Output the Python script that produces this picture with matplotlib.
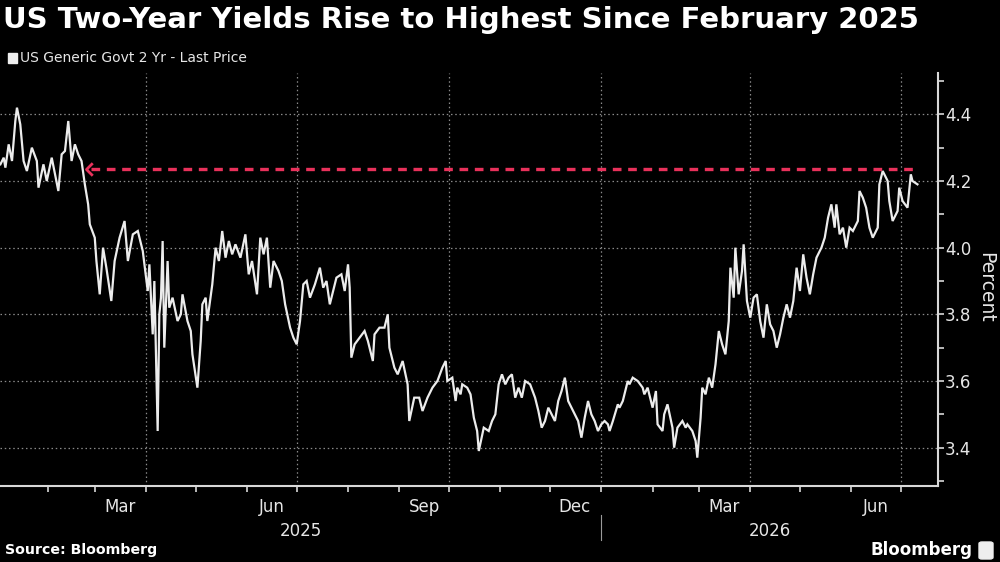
import matplotlib
matplotlib.use("Agg")
import matplotlib.pyplot as plt
import matplotlib.dates as mdates
import matplotlib.path as mpath
import matplotlib.transforms as mtrans
from matplotlib.patches import FancyBboxPatch
import pandas as pd
import numpy as np

# ---------------- data ----------------
dates = [
    "2025-01-03", "2025-01-05", "2025-01-06", "2025-01-08", "2025-01-10", "2025-01-12", "2025-01-13", "2025-01-15",
    "2025-01-17", "2025-01-19", "2025-01-22", "2025-01-25", "2025-01-26", "2025-01-29", "2025-01-31", "2025-02-03",
    "2025-02-05", "2025-02-07", "2025-02-09", "2025-02-11", "2025-02-13", "2025-02-15", "2025-02-17", "2025-02-19",
    "2025-02-21", "2025-02-23", "2025-02-25", "2025-02-26", "2025-03-01", "2025-03-02", "2025-03-04", "2025-03-06",
    "2025-03-08", "2025-03-11", "2025-03-13", "2025-03-16", "2025-03-19", "2025-03-21", "2025-03-24", "2025-03-27",
    "2025-03-30", "2025-04-02", "2025-04-03", "2025-04-05", "2025-04-06", "2025-04-08", "2025-04-09", "2025-04-10",
    "2025-04-11", "2025-04-12", "2025-04-14", "2025-04-15", "2025-04-17", "2025-04-20", "2025-04-22", "2025-04-23",
    "2025-04-26", "2025-04-28", "2025-04-29", "2025-05-02", "2025-05-04", "2025-05-05", "2025-05-07", "2025-05-08",
    "2025-05-11", "2025-05-13", "2025-05-15", "2025-05-17", "2025-05-19", "2025-05-21", "2025-05-23", "2025-05-25",
    "2025-05-28", "2025-05-31", "2025-06-02", "2025-06-04", "2025-06-07", "2025-06-09", "2025-06-11", "2025-06-13",
    "2025-06-15", "2025-06-17", "2025-06-20", "2025-06-22", "2025-06-24", "2025-06-27", "2025-06-29", "2025-07-01",
    "2025-07-03", "2025-07-05", "2025-07-07", "2025-07-09", "2025-07-12", "2025-07-15", "2025-07-17", "2025-07-19",
    "2025-07-21", "2025-07-25", "2025-07-28", "2025-07-30", "2025-08-01", "2025-08-02", "2025-08-03", "2025-08-05",
    "2025-08-08", "2025-08-11", "2025-08-13", "2025-08-16", "2025-08-17", "2025-08-20", "2025-08-23", "2025-08-25",
    "2025-08-26", "2025-08-29", "2025-08-31", "2025-09-03", "2025-09-06", "2025-09-07", "2025-09-10", "2025-09-13",
    "2025-09-15", "2025-09-18", "2025-09-21", "2025-09-24", "2025-09-27", "2025-09-29", "2025-09-30", "2025-10-03",
    "2025-10-05", "2025-10-06", "2025-10-08", "2025-10-09", "2025-10-12", "2025-10-14", "2025-10-16", "2025-10-18",
    "2025-10-19", "2025-10-22", "2025-10-25", "2025-10-27", "2025-10-29", "2025-10-31", "2025-11-02", "2025-11-04",
    "2025-11-06", "2025-11-08", "2025-11-10", "2025-11-12", "2025-11-14", "2025-11-16", "2025-11-19", "2025-11-22",
    "2025-11-24", "2025-11-26", "2025-11-28", "2025-11-30", "2025-12-02", "2025-12-04", "2025-12-06", "2025-12-08",
    "2025-12-10", "2025-12-12", "2025-12-14", "2025-12-16", "2025-12-18", "2025-12-20", "2025-12-22", "2025-12-24",
    "2025-12-26", "2025-12-28", "2025-12-30", "2026-01-01", "2026-01-03", "2026-01-05", "2026-01-06", "2026-01-08",
    "2026-01-11", "2026-01-12", "2026-01-14", "2026-01-17", "2026-01-18", "2026-01-20", "2026-01-23", "2026-01-26",
    "2026-01-27", "2026-01-29", "2026-02-01", "2026-02-03", "2026-02-04", "2026-02-07", "2026-02-08", "2026-02-10",
    "2026-02-13", "2026-02-14", "2026-02-16", "2026-02-19", "2026-02-21", "2026-02-22", "2026-02-25", "2026-02-27",
    "2026-02-28", "2026-03-02", "2026-03-03", "2026-03-05", "2026-03-07", "2026-03-09", "2026-03-11", "2026-03-13",
    "2026-03-15", "2026-03-17", "2026-03-19", "2026-03-20", "2026-03-22", "2026-03-23", "2026-03-25", "2026-03-27",
    "2026-03-28", "2026-03-30", "2026-04-01", "2026-04-03", "2026-04-05", "2026-04-07", "2026-04-09", "2026-04-11",
    "2026-04-13", "2026-04-15", "2026-04-17", "2026-04-19", "2026-04-21", "2026-04-23", "2026-04-25", "2026-04-27",
    "2026-04-29", "2026-05-01", "2026-05-03", "2026-05-05", "2026-05-07", "2026-05-09", "2026-05-11", "2026-05-14",
    "2026-05-16", "2026-05-18", "2026-05-20", "2026-05-22", "2026-05-23", "2026-05-25", "2026-05-27", "2026-05-29",
    "2026-05-31", "2026-06-02", "2026-06-05", "2026-06-06", "2026-06-08", "2026-06-10", "2026-06-12", "2026-06-14",
    "2026-06-17", "2026-06-18", "2026-06-20", "2026-06-23", "2026-06-24", "2026-06-26", "2026-06-29", "2026-06-30",
    "2026-07-02", "2026-07-05", "2026-07-07", "2026-07-08", "2026-07-11",
]
yields = [
    4.25, 4.27, 4.24, 4.31, 4.26, 4.38, 4.42, 4.37,
    4.26, 4.23, 4.30, 4.26, 4.18, 4.25, 4.20, 4.27,
    4.22, 4.17, 4.28, 4.29, 4.38, 4.26, 4.31, 4.28,
    4.26, 4.19, 4.13, 4.07, 4.03, 3.96, 3.86, 4.00,
    3.94, 3.84, 3.96, 4.03, 4.08, 3.96, 4.04, 4.05,
    3.99, 3.87, 3.95, 3.74, 3.90, 3.45, 3.80, 3.85,
    4.02, 3.70, 3.96, 3.82, 3.85, 3.78, 3.80, 3.86,
    3.78, 3.75, 3.68, 3.58, 3.72, 3.83, 3.85, 3.78,
    3.89, 4.00, 3.96, 4.05, 3.97, 4.02, 3.98, 4.01,
    3.97, 4.04, 3.92, 3.96, 3.86, 4.03, 3.98, 4.03,
    3.88, 3.96, 3.93, 3.90, 3.83, 3.76, 3.73, 3.71,
    3.78, 3.89, 3.90, 3.85, 3.89, 3.94, 3.88, 3.90,
    3.83, 3.91, 3.92, 3.87, 3.95, 3.88, 3.67, 3.71,
    3.73, 3.75, 3.72, 3.66, 3.74, 3.76, 3.76, 3.80,
    3.70, 3.64, 3.62, 3.66, 3.59, 3.48, 3.55, 3.55,
    3.51, 3.55, 3.58, 3.60, 3.64, 3.66, 3.60, 3.61,
    3.54, 3.58, 3.56, 3.59, 3.58, 3.56, 3.49, 3.45,
    3.39, 3.46, 3.45, 3.48, 3.50, 3.59, 3.62, 3.59,
    3.61, 3.62, 3.55, 3.58, 3.55, 3.60, 3.59, 3.55,
    3.51, 3.46, 3.48, 3.52, 3.50, 3.48, 3.54, 3.57,
    3.61, 3.54, 3.52, 3.50, 3.48, 3.43, 3.49, 3.54,
    3.50, 3.48, 3.45, 3.47, 3.48, 3.47, 3.45, 3.48,
    3.53, 3.52, 3.54, 3.60, 3.59, 3.61, 3.60, 3.58,
    3.56, 3.58, 3.52, 3.57, 3.47, 3.45, 3.50, 3.53,
    3.46, 3.40, 3.46, 3.48, 3.46, 3.47, 3.45, 3.42,
    3.37, 3.49, 3.58, 3.56, 3.61, 3.58, 3.65, 3.75,
    3.71, 3.68, 3.78, 3.94, 3.85, 4.00, 3.86, 3.93,
    4.01, 3.84, 3.79, 3.85, 3.86, 3.78, 3.73, 3.83,
    3.77, 3.75, 3.70, 3.74, 3.79, 3.83, 3.79, 3.84,
    3.94, 3.87, 3.98, 3.91, 3.86, 3.92, 3.97, 4.00,
    4.03, 4.09, 4.13, 4.06, 4.13, 4.04, 4.06, 4.00,
    4.06, 4.05, 4.08, 4.17, 4.15, 4.12, 4.06, 4.03,
    4.06, 4.19, 4.23, 4.20, 4.14, 4.08, 4.11, 4.18,
    4.14, 4.12, 4.22, 4.20, 4.19,
]
series_label = "US Generic Govt 2 Yr - Last Price"
ref_level = 4.236               # level of the red dashed reference line
ref_start = "2025-02-24"        # where the arrow head sits
ref_end = "2026-07-11"
y_major = [3.4, 3.6, 3.8, 4.0, 4.2, 4.4]
y_minor = [3.3, 3.5, 3.7, 3.9, 4.1, 4.3, 4.5]
title = "US Two-Year Yields Rise to Highest Since February 2025"

# ---------------- style ----------------
BG = "#000000"
FG = "#e6e6e6"
GRID = "#8a8a8a"
RED = "#e8315b"
FONT = ["DejaVu Sans"]

fig = plt.figure(figsize=(10, 5.62), dpi=100, facecolor=BG)
ax = fig.add_axes([0.0, 1 - 486 / 562, 0.938, (486 - 73) / 562])
ax.set_facecolor(BG)

x = pd.to_datetime(dates)
ax.plot(x, yields, color="#ececec", lw=1.6, solid_joinstyle="miter", zorder=3)

# reference line with chevron head
xs = pd.to_datetime([ref_start, ref_end])
ax.plot([xs[0] + pd.Timedelta(days=3), xs[1]], [ref_level, ref_level], color=RED,
        lw=2.4, linestyle=(0, (2.6, 2.0)), zorder=4)
chev = mpath.Path([(1.0, 1.0), (0.0, 0.0), (1.0, -1.0)],
                  [mpath.Path.MOVETO, mpath.Path.LINETO, mpath.Path.LINETO])
ax.plot([xs[0]], [ref_level], marker=chev, markersize=9, markerfacecolor="none",
        markeredgecolor=RED, markeredgewidth=2.0, linestyle="none", zorder=4)

# limits
ax.set_xlim(pd.Timestamp("2025-01-02 18:00"), pd.Timestamp("2026-07-23 10:00"))
ax.set_ylim(3.285, 4.524)

# spines
for s in ["left", "top"]:
    ax.spines[s].set_visible(False)
for s in ["right", "bottom"]:
    ax.spines[s].set_color("#d8d8d8")
    ax.spines[s].set_linewidth(1.5)

# y axis on the right
ax.yaxis.tick_right()
ax.set_yticks(y_major)
ax.set_yticks(y_minor, minor=True)
ax.set_yticklabels([f"{v:.1f}" for v in y_major])
ax.tick_params(axis="y", which="both", direction="out", length=4, width=1.2,
               colors="#d8d8d8", labelcolor=FG, labelsize=12, pad=1)
ax.yaxis.set_minor_formatter(plt.NullFormatter())

# x axis: month ticks, quarterly labels centred in the month
ax.xaxis.set_major_locator(mdates.MonthLocator())
ax.xaxis.set_major_formatter(plt.NullFormatter())
ax.xaxis.set_minor_locator(mdates.MonthLocator(bymonth=[3, 6, 9, 12], bymonthday=16))
ax.xaxis.set_minor_formatter(mdates.DateFormatter("%b"))
ax.tick_params(axis="x", which="major", direction="out", length=4, width=1.2, colors="#d8d8d8")
ax.tick_params(axis="x", which="minor", length=0, labelcolor=FG, labelsize=12, pad=9)

# grid
for v in y_major:
    ax.axhline(v, color=GRID, lw=0.9, linestyle=(0, (1.2, 2.2)), zorder=1)
for q in pd.date_range("2025-04-01", "2026-07-01", freq="QS"):
    ax.axvline(q, color=GRID, lw=0.9, linestyle=(0, (1.2, 2.2)), zorder=1)

# year labels and separator
trans = mtrans.blended_transform_factory(ax.transData, ax.transAxes)
lo, hi = ax.get_xlim()
sep = mdates.date2num(pd.Timestamp("2026-01-01"))
ax.text((lo + sep) / 2, -0.108, "2025", transform=trans, ha="center", va="center",
        color=FG, fontsize=12, family=FONT)
ax.text((sep + hi) / 2, -0.108, "2026", transform=trans, ha="center", va="center",
        color=FG, fontsize=12, family=FONT)
ax.plot([sep, sep], [-0.07, -0.13], transform=trans, color="#9a9a9a", lw=0.8, clip_on=False)

fig.text(0.986, 1 - 287 / 562, "Percent", rotation=270, ha="center", va="center",
         color=FG, fontsize=13.5, family=FONT)

# title / legend / footer
fig.text(0.003, 1 - 20 / 562, title, ha="left", va="center", color="white",
         fontsize=21, fontweight="bold", family=FONT)
fig.patches.append(plt.Rectangle((8 / 1000, 1 - 63 / 562), 9 / 1000, 10 / 562,
                                 transform=fig.transFigure, color="#eeeeee"))
fig.text(20 / 1000, 1 - 58 / 562, series_label, ha="left", va="center", color=FG,
         fontsize=10, family=FONT)
fig.text(5 / 1000, 1 - 550 / 562, "Source: Bloomberg", ha="left", va="center", color="white",
         fontsize=10.2, fontweight="bold", family=FONT)
fig.text(972 / 1000, 1 - 550 / 562, "Bloomberg", ha="right", va="center", color="white",
         fontsize=12, fontweight="bold", family=FONT)
fig.patches.append(FancyBboxPatch((979 / 1000, 1 - 559 / 562), 14 / 1000, 17 / 562,
                                  boxstyle="round,pad=0,rounding_size=0.003",
                                  transform=fig.transFigure, color="#eeeeee"))

fig.savefig("out.png", dpi=100, facecolor=BG)
